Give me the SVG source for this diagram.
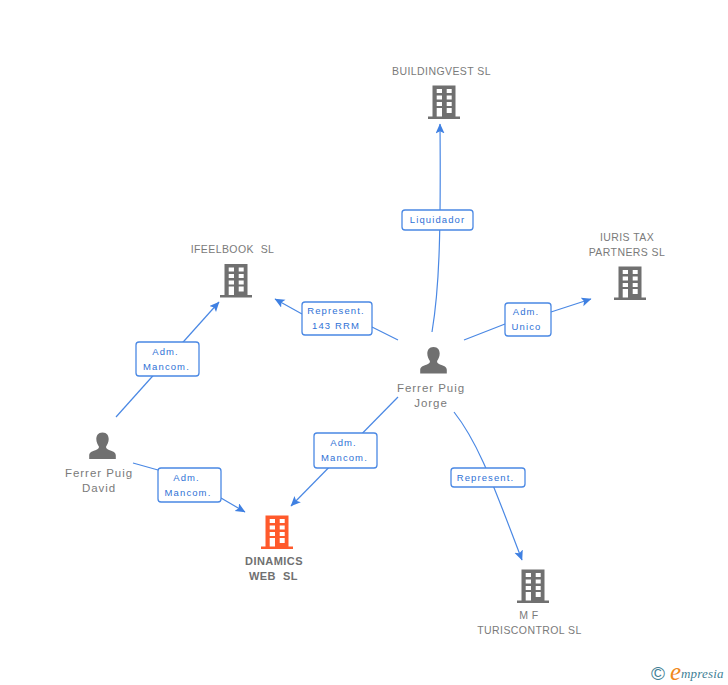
<svg xmlns="http://www.w3.org/2000/svg" width="728" height="685" viewBox="0 0 728 685">
<style>
text{white-space:pre}
.n{font:10.5px "Liberation Sans",Arial,sans-serif;fill:#7a7a7a;text-anchor:middle;letter-spacing:.42px}
.p{font:11.5px "Liberation Sans",Arial,sans-serif;fill:#7a7a7a;text-anchor:middle;letter-spacing:.95px}
.m{font:bold 11px "Liberation Sans",Arial,sans-serif;fill:#707070;text-anchor:middle;letter-spacing:.45px}
.l{font:9.5px "Liberation Sans",Arial,sans-serif;fill:#2f72d6;text-anchor:middle;letter-spacing:1.1px}
.b{fill:#fff;stroke:#4a88e4;stroke-width:1.3}
.c{fill:none;stroke:#4a88e4;stroke-width:1.2}
</style>
<defs>
<marker id="a" markerUnits="userSpaceOnUse" markerWidth="11" markerHeight="10" refX="9.500" refY="4.500" orient="auto"><path d="M0 0L10 4.500L0 9L2.200 4.500Z" fill="#3f80e2"/></marker>
<path id="bd" fill-rule="evenodd" d="M-11.5 0H11.5V31H16V33.5H-16V31H-11.5ZM-7.3 3.6V7.6H-2V3.6ZM2.7 3.6V7.6H7.7V3.6ZM-7.3 10V14H-2V10ZM2.7 10V14H7.7V10ZM-7.3 16.6V20.6H-2V16.6ZM2.7 16.6V20.6H7.7V16.6ZM-7.3 22.6V31H-2V22.6ZM2.7 22.6V27.6H7.7V22.6Z"/>
<path id="pr" d="M0 0C4.5 0 6.2 3.4 6.2 6.6C6.2 9.8 4.8 12.4 3.6 14C3.4 15.8 4.4 16.6 6.5 17.4C10.5 18.8 13.3 19.6 13.3 23V26.5H-13.3V23C-13.3 19.6 -10.5 18.8 -6.5 17.4C-4.4 16.6 -3.4 15.8 -3.6 14C-4.8 12.4 -6.2 9.8 -6.2 6.6C-6.2 3.4 -4.5 0 0 0Z"/>
</defs>
<rect width="728" height="685" fill="#fff"/>
<g id="connectors">
<path class="c" marker-end="url(#a)" d="M432 332C439 290 441 240 440 124"/>
<path class="c" marker-end="url(#a)" d="M398 340L372 327M302 314L275 299"/>
<path class="c" marker-end="url(#a)" d="M464 340L505 324M551 312L591 299"/>
<path class="c" marker-end="url(#a)" d="M454 412C480 445 495 490 522 560"/>
<path class="c" marker-end="url(#a)" d="M398 397L291 506"/>
<path class="c" marker-end="url(#a)" d="M116 417L219 302"/>
<path class="c" marker-end="url(#a)" d="M133 463L158 470M221 498L245 512"/>
</g>
<g id="label-liquidador"><rect class="b" x="402" y="210" width="71" height="20" rx="3"/><text class="l" x="437.500" y="223">Liquidador</text></g>
<g id="label-represent-143"><rect class="b" x="302" y="302" width="70" height="33" rx="3"/><text class="l" x="336" y="314">Represent.</text><text class="l" x="336" y="329">143 RRM</text></g>
<g id="label-adm-unico"><rect class="b" x="505" y="303" width="46" height="33" rx="3"/><text class="l" x="526" y="315">Adm.</text><text class="l" x="526.500" y="330">Unico</text></g>
<g id="label-represent"><rect class="b" x="451" y="468" width="74" height="19" rx="3"/><text class="l" x="485.500" y="481">Represent.</text></g>
<g id="label-adm-jorge"><rect class="b" x="314" y="433" width="63" height="35" rx="3"/><text class="l" x="343.500" y="446">Adm.</text><text class="l" x="344.500" y="461">Mancom.</text></g>
<g id="label-adm-david-ifeelbook"><rect class="b" x="136" y="342" width="63" height="34" rx="3"/><text class="l" x="165.500" y="355">Adm.</text><text class="l" x="166.500" y="370">Mancom.</text></g>
<g id="label-adm-david-dinamics"><rect class="b" x="158" y="468" width="63" height="34" rx="3"/><text class="l" x="186.500" y="481">Adm.</text><text class="l" x="188" y="496">Mancom.</text></g>
<g id="buildingvest"><use href="#bd" x="444" y="85.500" fill="#707070"/><text class="n" x="441.500" y="75">BUILDINGVEST SL</text></g>
<g id="ifeelbook"><use href="#bd" x="236" y="264" fill="#707070"/><text class="n" x="232.500" y="253">IFEELBOOK  SL</text></g>
<g id="iuris"><use href="#bd" x="630" y="266.500" fill="#707070"/><text class="n" x="627" y="241">IURIS TAX</text><text class="n" x="627" y="256">PARTNERS SL</text></g>
<g id="mf"><use href="#bd" x="533" y="569.500" fill="#707070"/><text class="n" x="529" y="619">M F</text><text class="n" x="529.500" y="634">TURISCONTROL SL</text></g>
<g id="dinamics"><use href="#bd" x="277" y="515.500" fill="#ff5a2c"/><text class="m" x="274" y="565">DINAMICS</text><text class="m" x="273.500" y="580">WEB  SL</text></g>
<g id="jorge"><use href="#pr" x="433.500" y="347" fill="#707070"/><text class="p" x="431" y="392">Ferrer Puig</text><text class="p" x="431" y="407">Jorge</text></g>
<g id="david"><use href="#pr" x="102.500" y="432.500" fill="#707070"/><text class="p" x="99" y="477">Ferrer Puig</text><text class="p" x="99" y="492">David</text></g>
<g id="logo"><text x="658" y="680" font-family="'Liberation Sans',Arial,sans-serif" font-size="19" fill="#3f7f96" text-anchor="middle">©</text><text x="670" y="680" font-family="'Liberation Serif',serif" font-style="italic" font-size="25" fill="#f08a1c">e</text><text x="681" y="678" font-family="'Liberation Serif',serif" font-style="italic" font-size="13" fill="#3f7f96" letter-spacing=".2">mpresia</text></g>
</svg>
